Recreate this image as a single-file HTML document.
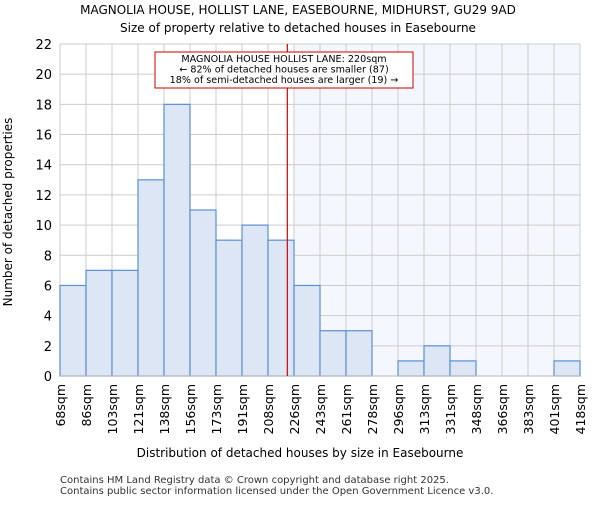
<!DOCTYPE html>
<html><head><meta charset="utf-8"><style>
body{margin:0;background:#fff;font-family:"Liberation Sans","DejaVu Sans",sans-serif}
</style></head><body>
<svg id="c" width="600" height="500" xmlns="http://www.w3.org/2000/svg" font-family="DejaVu Sans, Liberation Sans, sans-serif">
<text x="298" y="14" text-anchor="middle" font-size="12" fill="#000">MAGNOLIA HOUSE, HOLLIST LANE, EASEBOURNE, MIDHURST, GU29 9AD</text>
<text x="298" y="32" text-anchor="middle" font-size="12" fill="#000">Size of property relative to detached houses in Easebourne</text>
<rect x="294" y="44" width="286" height="332" fill="#f4f7fd"/>
<g id="grid"></g>
<g id="bars"></g>
<g id="axes"></g>
<text x="300" y="457" text-anchor="middle" font-size="12">Distribution of detached houses by size in Easebourne</text>
<text transform="translate(12,212) rotate(-90)" text-anchor="middle" font-size="12">Number of detached properties</text>
<text x="60" y="483" font-size="10" fill="#333">Contains HM Land Registry data © Crown copyright and database right 2025.</text>
<text x="60" y="494" font-size="10" fill="#333">Contains public sector information licensed under the Open Government Licence v3.0.</text>
</svg>
<script>
const categories=["68sqm","86sqm","103sqm","121sqm","138sqm","156sqm","173sqm","191sqm","208sqm","226sqm","243sqm","261sqm","278sqm","296sqm","313sqm","331sqm","348sqm","366sqm","383sqm","401sqm","418sqm"];
const counts=[6,7,7,13,18,11,9,10,9,6,3,3,0,1,2,1,0,0,0,1];
const yTicks=[0,2,4,6,8,10,12,14,16,18,20,22];
const edgeValues=[68,85.5,103,120.5,138,155.5,173,190.5,208,225.5,243,260.5,278,295.5,313,330.5,348,365.5,383,400.5,418];
const subjectSize=221;
const annotationLines=["MAGNOLIA HOUSE HOLLIST LANE: 220sqm","← 82% of detached houses are smaller (87)","18% of semi-detached houses are larger (19) →"];
const NS="http://www.w3.org/2000/svg";
const X0=60,X1=580,Y0=376,Y1=44,YMAX=22;
const n=counts.length,bw=(X1-X0)/n;
const xb=i=>X0+i*bw;
const y=v=>Y0-(v/YMAX)*(Y0-Y1);
const xv=v=>{for(let i=0;i<edgeValues.length-1;i++){if(v<=edgeValues[i+1])return xb(i)+(v-edgeValues[i])/(edgeValues[i+1]-edgeValues[i])*bw;}return X1;};
function mk(t,a,p){const e=document.createElementNS(NS,t);for(const k in a)e.setAttribute(k,a[k]);p.appendChild(e);return e;}
const grid=document.getElementById('grid'),bars=document.getElementById('bars'),axes=document.getElementById('axes'),svg=document.getElementById('c');
yTicks.forEach(t=>{
 const l=mk('line',{x1:X0,x2:X1,y1:y(t),y2:y(t),stroke:'#cccccc','stroke-width':1},grid);
 
 
 const tx=mk('text',{x:X0-8,y:y(t)+5,'text-anchor':'end','font-size':13},axes);
 tx.textContent=t;
 
 
});
categories.forEach((c,i)=>{
 const l=mk('line',{x1:xb(i),x2:xb(i),y1:Y1,y2:Y0,stroke:'#cccccc','stroke-width':1},grid);
 
 
 const tx=mk('text',{transform:`translate(${xb(i)+5},${Y0+8}) rotate(-90)`,'text-anchor':'end','font-size':12.5},axes);
 tx.textContent=c;
 
 
});
counts.forEach((v,i)=>{
 if(v<=0)return;
 const r=mk('rect',{x:xb(i),y:y(v),width:bw,height:Y0-y(v),fill:'#dce6f4',stroke:'#5b8fd6','stroke-width':1.2},bars);
 
 
});
const ax=mk('line',{x1:X0,x2:X1,y1:Y0,y2:Y0,stroke:'#bbbbbb','stroke-width':1},axes);


const rx=xv(subjectSize);
const rl=mk('line',{x1:rx,x2:rx,y1:Y1,y2:Y0,stroke:'#d00000','stroke-width':1.2},svg);


const box=mk('rect',{x:155,y:52,width:258,height:36,fill:'#fff',stroke:'#cc0000','stroke-width':1},svg);


annotationLines.forEach((s,i)=>{
 const t=mk('text',{x:284,y:62+i*10.5,'text-anchor':'middle','font-size':9.6},svg);
 t.textContent=s;
 
 
});
</script>
</body></html>
